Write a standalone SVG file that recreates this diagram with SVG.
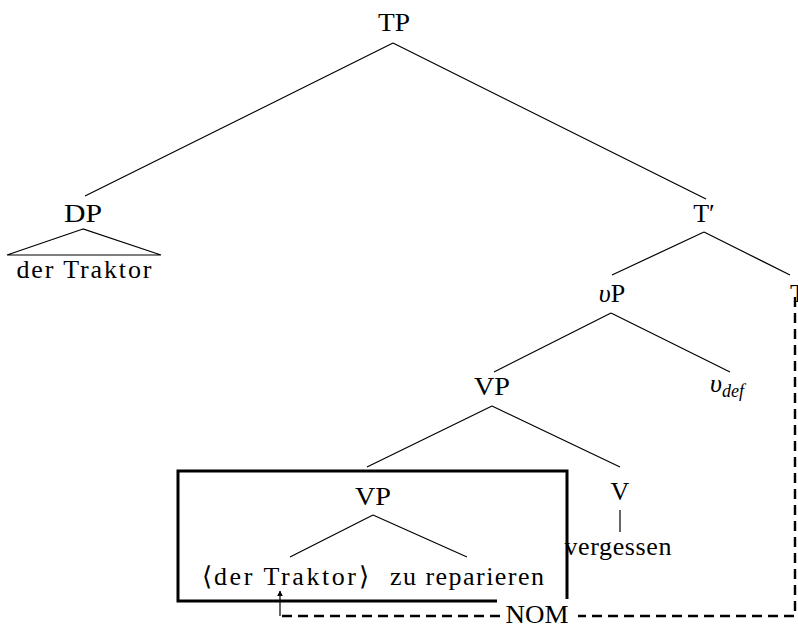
<svg xmlns="http://www.w3.org/2000/svg" width="798" height="626" viewBox="0 0 798 626">
<style>
text{font-family:"Liberation Serif","Times New Roman",serif;font-size:26px;fill:#000;text-anchor:middle}
.e{stroke:#000;stroke-width:1.2;fill:none}
.box{stroke:#000;stroke-width:3;fill:none}
.dash{stroke:#000;stroke-width:2.4;fill:none;stroke-dasharray:10 6}
</style>
<defs>
<marker id="ah" viewBox="0 0 10 10" refX="9" refY="5" markerWidth="5" markerHeight="5" orient="auto">
<path d="M0,0 L10,5 L0,10 z" fill="#000"/>
</marker>
</defs>
<rect width="798" height="626" fill="#fff"/>
<g id="connectors">
<path class="e" d="M393,43 L85,196 M393,43 L706,199"/>
<path class="e" d="M83,229 L7,255 L161,255 Z"/>
<path class="e" d="M704,232 L612,275 M704,232 L790,275"/>
<path class="e" d="M611,313 L494,372 M611,313 L730,372"/>
<path class="e" d="M492,406 L367,467 M492,406 L620,467"/>
<path class="e" d="M373,515 L290,557 M373,515 L467,557"/>
<path class="e" d="M620,510 L620,532"/>
<path class="box" d="M497,601 L178,601 L178,471 L567,471 L567,599"/>
<path class="dash" d="M795,297 L795,616 L578,616"/>
<path class="dash" d="M500,616 L280,616"/>
<path class="e" d="M280,616 L280,591" marker-end="url(#ah)"/>
</g>
<g id="TP"><text x="394" y="31" textLength="32" lengthAdjust="spacingAndGlyphs">TP</text></g>
<g id="DP"><text x="83" y="222" textLength="38" lengthAdjust="spacingAndGlyphs">DP</text></g>
<g id="DP-der-Traktor"><text x="84" y="278" textLength="135">der Traktor</text></g>
<g id="Tbar"><text x="704" y="222">T′</text></g>
<g id="T"><text x="798" y="302">T</text></g>
<g id="vP"><text x="612" y="302"><tspan font-style="italic">υ</tspan>P</text></g>
<g id="VP1"><text x="492" y="395" textLength="36" lengthAdjust="spacingAndGlyphs">VP</text></g>
<g id="vdef"><text x="727" y="392"><tspan font-style="italic">υ</tspan><tspan font-style="italic" font-size="18" dy="5">def</tspan></text></g>
<g id="VP2"><text x="373" y="505" textLength="36" lengthAdjust="spacingAndGlyphs">VP</text></g>
<g id="V"><text x="620" y="500">V</text></g>
<g id="vergessen"><text x="618" y="555" textLength="107">vergessen</text></g>
<g id="derTraktor"><text x="285" y="585" textLength="167">⟨der Traktor⟩</text></g>
<g id="zureparieren"><text x="467" y="585" textLength="154">zu reparieren</text></g>
<g id="NOM"><text x="537" y="623" textLength="63" lengthAdjust="spacingAndGlyphs">NOM</text></g>
</svg>
